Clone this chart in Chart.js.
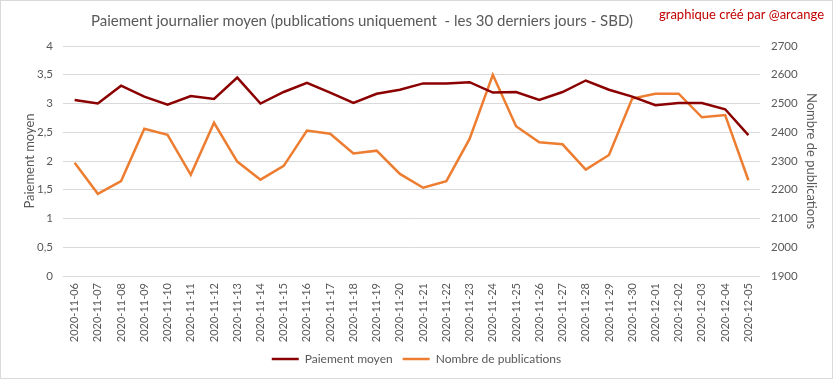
<!DOCTYPE html>
<html>
<head>
<meta charset="utf-8">
<script src="https://cdn.jsdelivr.net/npm/chart.js@4"></script>
<style>
html,body{margin:0;padding:0;background:#fff;}
#wrap{width:833px;height:379px;position:relative;}
</style>
</head>
<body>
<div id="wrap"><canvas id="c" width="833" height="379"></canvas></div>
<script>
const categories = ["2020-11-06","2020-11-07","2020-11-08","2020-11-09","2020-11-10","2020-11-11","2020-11-12","2020-11-13","2020-11-14","2020-11-15","2020-11-16","2020-11-17","2020-11-18","2020-11-19","2020-11-20","2020-11-21","2020-11-22","2020-11-23","2020-11-24","2020-11-25","2020-11-26","2020-11-27","2020-11-28","2020-11-29","2020-11-30","2020-12-01","2020-12-02","2020-12-03","2020-12-04","2020-12-05"];
const paiementMoyen = [3.06,3.00,3.31,3.12,2.98,3.13,3.08,3.45,3.00,3.20,3.36,3.19,3.01,3.17,3.24,3.35,3.35,3.37,3.19,3.20,3.06,3.20,3.40,3.24,3.12,2.97,3.01,3.01,2.90,2.45];
const nombrePublications = [2294,2186,2230,2412,2391,2252,2433,2298,2235,2283,2406,2395,2326,2336,2255,2207,2230,2377,2600,2421,2365,2358,2270,2321,2517,2534,2534,2452,2460,2233];
const leftTicks = {min:0, max:4, step:0.5};
const rightTicks = {min:1900, max:2700, step:100};
const titleText = "Paiement journalier moyen (publications uniquement  - les 30 derniers jours - SBD)";
const creditText = "graphique créé par @arcange";

const FONT = "Lato, 'Open Sans', sans-serif";
const GREY = "#595959";

const extras = {
  id: 'extras',
  afterDraw(chart){
    const ctx = chart.ctx;
    ctx.save();
    ctx.strokeStyle = "#d9d9d9";
    ctx.lineWidth = 1;
    ctx.strokeRect(0.5,0.5,832,378);
    ctx.fillStyle = GREY;
    ctx.font = "15px " + FONT;
    ctx.textAlign = "center";
    ctx.textBaseline = "middle";
    ctx.fillText(titleText, 362, 21);
    ctx.fillStyle = "#c00000";
    ctx.font = "13px " + FONT;
    ctx.textAlign = "right";
    ctx.fillText(creditText, 824, 15);
    ctx.restore();
  }
};

new Chart(document.getElementById('c'), {
  type: 'line',
  data: {
    labels: categories,
    datasets: [
      {label:"Paiement moyen", data: paiementMoyen, yAxisID:'y', borderColor:'#8b0000', backgroundColor:'#8b0000', borderWidth:2.5, pointRadius:0, tension:0},
      {label:"Nombre de publications", data: nombrePublications, yAxisID:'y1', borderColor:'#ed7d31', backgroundColor:'#ed7d31', borderWidth:2.5, pointRadius:0, tension:0}
    ]
  },
  options: {
    responsive:false,
    animation:false,
    devicePixelRatio:1,
    layout:{padding:{top:46,left:0,right:0,bottom:4}},
    plugins:{
      title:{display:false},
      tooltip:{enabled:false},
      legend:{
        position:'bottom',
        labels:{
          color:GREY,
          font:{family:FONT,size:12},
          usePointStyle:true,
          pointStyle:'line',
          pointStyleWidth:27,
          boxWidth:27,
          padding:10
        }
      }
    },
    scales:{
      x:{
        offset:true,
        grid:{display:false, drawTicks:false},
        border:{display:false},
        ticks:{color:GREY, font:{family:FONT,size:11}, minRotation:90, maxRotation:90, autoSkip:false, padding:7},
        afterFit(s){ s.height = 67; }
      },
      y:{
        position:'left',
        min:leftTicks.min, max:leftTicks.max,
        grid:{color:'#d9d9d9', drawTicks:false},
        border:{display:false},
        ticks:{stepSize:leftTicks.step, color:GREY, font:{family:FONT,size:11.5}, padding:10,
          callback:(v)=> String(v).replace('.',',')},
        title:{display:true, text:"Paiement moyen", color:GREY, font:{family:FONT,size:13}, padding:{top:22,bottom:0}},
        afterFit(s){ s.width = 63; }
      },
      y1:{
        position:'right',
        min:rightTicks.min, max:rightTicks.max,
        grid:{display:false, drawTicks:false},
        border:{display:false},
        ticks:{stepSize:rightTicks.step, color:GREY, font:{family:FONT,size:11.5}, padding:11,
          callback:(v)=> String(v)},
        title:{display:true, text:"Nombre de publications", color:GREY, font:{family:FONT,size:13}, padding:{top:14,bottom:0}},
        afterFit(s){ s.width = 73; }
      }
    }
  },
  plugins:[extras]
});
</script>
</body>
</html>
